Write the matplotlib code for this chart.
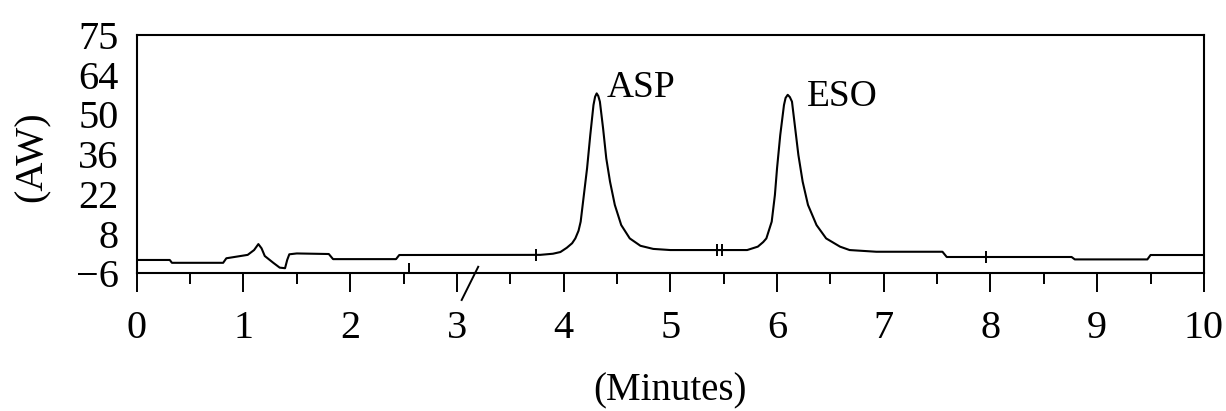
import matplotlib
matplotlib.use("Agg")
import matplotlib.pyplot as plt
from matplotlib.ticker import MultipleLocator

plt.rcParams["font.family"] = ["Liberation Serif", "DejaVu Serif"]

# Chromatogram trace (time in minutes, signal in AW)
time_min = [0.0, 0.31, 0.33, 0.81, 0.84, 1.04, 1.10, 1.14, 1.17, 1.20,
            1.28, 1.34, 1.39, 1.41, 1.43, 1.50, 1.80, 1.84, 2.43, 2.46,
            3.78, 3.90, 3.97, 4.03, 4.08, 4.11, 4.14, 4.16, 4.19, 4.22,
            4.25, 4.28, 4.295, 4.31, 4.325, 4.34, 4.37, 4.40, 4.435, 4.48,
            4.54, 4.62, 4.72, 4.84, 5.00, 5.72, 5.82, 5.87, 5.90, 5.95,
            5.98, 6.00, 6.03, 6.065, 6.08, 6.10, 6.12, 6.14, 6.17, 6.20,
            6.24, 6.29, 6.37, 6.46, 6.59, 6.68, 6.93, 7.55, 7.59, 8.76,
            8.79, 9.47, 9.50, 10.0]
signal = [-1.3, -1.3, -2.3, -2.3, -0.7, 0.5, 2.2, 4.3, 2.8, 0.1,
          -2.3, -4.0, -4.2, -1.3, 0.7, 1.0, 0.8, -1.0, -1.0, 0.45,
          0.5, 0.9, 1.5, 3.0, 4.6, 6.3, 9.0, 12.2, 21.6, 31.0,
          42.7, 53.3, 56.2, 57.4, 56.5, 54.5, 45.1, 34.5, 26.3, 18.1,
          11.0, 6.3, 3.7, 2.6, 2.2, 2.2, 3.4, 5.0, 6.3, 12.2,
          21.6, 31.0, 42.7, 53.3, 55.8, 56.9, 56.1, 54.5, 45.1, 35.7,
          26.3, 18.1, 11.0, 6.3, 3.4, 2.2, 1.6, 1.6, -0.25, -0.25,
          -1.1, -1.1, 0.45, 0.45]

# Peak annotations
peak_names = ["ASP", "ESO"]
peak_time = [4.31, 6.10]
peak_height = [57.4, 56.9]

# Small event marks drawn on the trace
event_time = [3.74, 5.44, 5.48, 7.96]
event_level = [0.5, 2.2, 2.2, -0.25]

# Axis ticks (the top tick carries the printed label 75)
y_ticks = [-6, 8, 22, 36, 50, 64, 78]
y_tick_labels = ["\u22126", "8", "22", "36", "50", "64", "75"]
x_ticks = list(range(0, 11))

fig = plt.figure(figsize=(12.26, 4.11), dpi=100)
ax = fig.add_axes([0.1115, 0.335, 0.8705, 0.58])

ax.plot(time_min, signal, color="black", lw=1.5, solid_joinstyle="round")

# event marks on the trace
ax.vlines(event_time, [v - 2.1 for v in event_level],
          [v + 2.1 for v in event_level], color="black", lw=1.4)
# marker standing on the baseline and the slash under it
ax.vlines([2.55], [-6], [-2.4], color="black", lw=1.4)
ax.plot([3.2, 3.045], [-3.7, -15.4], color="black", lw=1.4, clip_on=False)

offsets = [(7.4, -2.4), (13.7, -8.4)]
for name, t, h, off in zip(peak_names, peak_time, peak_height, offsets):
    ax.annotate(name, (t, h), xytext=off, textcoords="offset points",
                fontsize=27, ha="left", va="baseline")

ax.set_xlim(0, 10)
ax.set_ylim(-6, 78)
ax.set_xticks(x_ticks)
ax.xaxis.set_minor_locator(MultipleLocator(0.5))
ax.set_yticks(y_ticks)
ax.set_yticklabels(y_tick_labels)

for s in ax.spines.values():
    s.set_linewidth(1.5)

ax.tick_params(axis="x", which="major", direction="out", length=13.5,
               width=1.4, labelsize=29, pad=13)
ax.tick_params(axis="x", which="minor", direction="out", length=8,
               width=1.4)
ax.tick_params(axis="y", which="major", length=0, labelsize=29, pad=13)

ax.set_xlabel("(Minutes)", fontsize=28)
ax.set_ylabel("(AW)", fontsize=29)
ax.xaxis.set_label_coords(0.5, -0.415)
ax.yaxis.set_label_coords(-0.081, 0.49)

fig.savefig("out.png", dpi=100)
